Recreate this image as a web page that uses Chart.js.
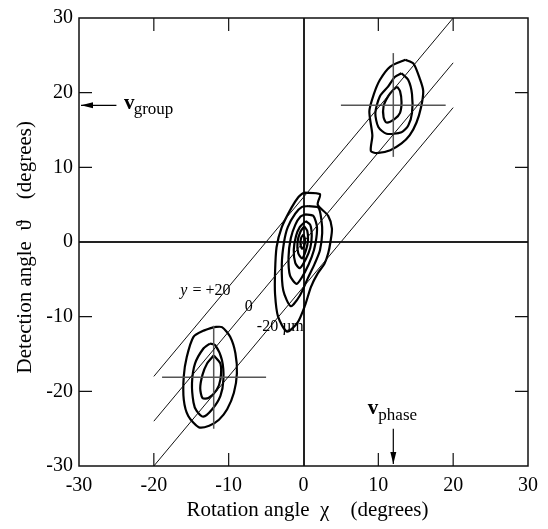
<!DOCTYPE html>
<html>
<head>
<meta charset="utf-8">
<script src="https://cdn.jsdelivr.net/npm/chart.js@4/dist/chart.umd.min.js"></script>
<style>
  html, body { margin: 0; padding: 0; background: #fff; }
  #wrap { width: 548px; height: 529px; }
</style>
</head>
<body>
<div id="wrap"><canvas id="chart"></canvas></div>
<script>
// axis ticks (degrees)
const xTicks = [-30, -20, -10, 0, 10, 20, 30];
const yTicks = [-30, -20, -10, 0, 10, 20, 30];

// the three y = const lines (+20, 0, -20 um), end points
const lineUp = [[-20, -18], [20, 30]];
const lineMid = [[-20, -24], [20, 24]];
const lineDown = [[-20, -30], [20, 18]];

// crosshairs at the two side peaks
const crossUpH = [[5.0, 18.3], [19.0, 18.3]];
const crossUpV = [[12.0, 11.4], [12.0, 25.3]];
const crossLoH = [[-18.9, -18.1], [-5.0, -18.1]];
const crossLoV = [[-12.0, -11.2], [-12.0, -25.0]];

// contours of the central peak (outer -> inner)
const mid1 = [[0, 6.6], [2.2, 6.4], [1.9, 5.0], [3.3, 3.5], [3.8, 1.8], [3.6, 0], [3.3, -1.5], [2.8, -2.9], [1.9, -4.2], [1.0, -6], [0.2, -8.5], [-0.8, -10.8], [-2.2, -12], [-3.4, -10], [-3.8, -7], [-3.8, -4], [-3.6, -0.7], [-2.9, 2.0], [-1.6, 4.6], [-0.7, 6.0], [0, 6.6]];
const mid2 = [[0.65, 4.8], [2.0, 4.6], [2.4, 2.9], [2.5, 1.2], [2.2, -1.1], [1.5, -2.9], [0.6, -4.8], [-0.5, -7.2], [-1.7, -8.6], [-2.7, -6.5], [-2.9, -3], [-2.6, 0], [-2.1, 2], [-1.1, 3.8], [-0.2, 4.7], [0.65, 4.8]];
const mid3 = [[0.2, 3.7], [1.3, 3.5], [1.8, 2.0], [1.6, -0.2], [1.1, -2.0], [0.2, -4.0], [-0.9, -5.6], [-1.8, -4.5], [-2.0, -2], [-1.7, 0.5], [-1.1, 2.3], [-0.4, 3.4], [0.2, 3.7]];
const mid4 = [[0.3, 2.8], [0.9, 2.3], [1.1, 0.8], [0.9, -0.8], [0.3, -2.3], [-0.5, -3.5], [-1.1, -2.8], [-1.3, -1], [-1.0, 0.8], [-0.5, 2.0], [0.3, 2.8]];
const mid5 = [[0.1, 2.1], [0.5, 1.5], [0.6, 0.2], [0.3, -1.2], [-0.2, -2.2], [-0.7, -1.5], [-0.8, 0], [-0.4, 1.4], [0.1, 2.1]];
const mid6 = [[0, 1.0], [0.2, 0.4], [0.1, -0.5], [-0.2, -0.9], [-0.4, -0.3], [-0.3, 0.6], [0, 1.0]];

// upper right peak
const up1 = [[13.6, 24.4], [14.7, 23.9], [15.6, 21.7], [16.0, 20.2], [15.7, 18.0], [15.1, 16.0], [14.2, 14.3], [13.1, 13.2], [11.6, 12.3], [9.8, 11.9], [9.0, 12.2], [9.2, 14.3], [8.8, 17.5], [9.4, 19.8], [10.2, 21.7], [11.6, 23.5], [13.6, 24.4]];
const up2 = [[13.1, 22.6], [14.0, 21.7], [14.5, 19.8], [14.5, 17.3], [14.0, 15.6], [13.1, 14.7], [11.1, 14.5], [10.0, 15.4], [9.6, 17.3], [10.2, 19.5], [11.3, 20.8], [12.2, 22.1], [13.1, 22.6]];
const up3 = [[12.5, 20.8], [12.9, 20.2], [13.1, 18.7], [12.9, 17.3], [12.2, 16.5], [11.1, 16.0], [10.7, 16.7], [10.7, 18.2], [11.3, 19.5], [12.0, 20.4], [12.5, 20.8]];

// lower left peak
const low1 = [[-12.0, -11.4], [-10.9, -11.4], [-9.8, -12.7], [-9.1, -14.9], [-8.9, -17.6], [-9.3, -20.2], [-10.2, -22.4], [-11.3, -23.8], [-12.6, -24.6], [-14.0, -24.8], [-15.4, -23.3], [-16.0, -21.1], [-16.0, -18.0], [-15.6, -15.4], [-14.7, -12.7], [-13.4, -11.9], [-12.0, -11.4]];
const low2 = [[-12.5, -13.6], [-11.8, -13.8], [-10.9, -15.8], [-10.7, -18.4], [-11.1, -20.6], [-12.2, -22.4], [-13.4, -23.4], [-14.3, -22.6], [-14.7, -21.5], [-14.9, -18.9], [-14.5, -16.3], [-13.4, -14.3], [-12.5, -13.6]];
const low3 = [[-12.0, -15.2], [-11.1, -16.3], [-11.1, -18.4], [-11.6, -19.8], [-12.7, -20.9], [-13.5, -20.9], [-13.8, -19.6], [-13.5, -17.8], [-12.9, -16.3], [-12.0, -15.2]];

const SERIF = '"Liberation Serif", "DejaVu Serif", serif';

function pts(arr) {
    return arr.map(p => ({ x: p[0], y: p[1] }));
}

function lineSet(arr, width, color) {
    return {
        data: pts(arr),
        showLine: true,
        pointRadius: 0,
        borderColor: color,
        borderWidth: width,
        tension: 0
    };
}

function contourSet(arr) {
    const ds = lineSet(arr, 2.2, '#000');
    ds.tension = 0.25;
    return ds;
}

const datasets = [
    lineSet(lineUp, 1, '#111'),
    lineSet(lineMid, 1, '#111'),
    lineSet(lineDown, 1, '#111'),
    lineSet(crossUpH, 1.5, '#555'),
    lineSet(crossUpV, 1.5, '#555'),
    lineSet(crossLoH, 1.5, '#555'),
    lineSet(crossLoV, 1.5, '#555')
];
[mid1, mid2, mid3, mid4, mid5, mid6, up1, up2, up3, low1, low2, low3].forEach(c => datasets.push(contourSet(c)));

// frame, inner ticks, arrows and labels
const decorPlugin = {
    id: 'decor',
    afterDatasetsDraw(chart) {
        const { ctx, chartArea: a, scales: { x, y } } = chart;
        const tickLen = 13;
        ctx.save();

        // frame
        ctx.strokeStyle = '#111';
        ctx.lineWidth = 1.5;
        ctx.strokeRect(a.left, a.top, a.right - a.left, a.bottom - a.top);

        // inner ticks on all four sides
        ctx.lineWidth = 1.2;
        xTicks.forEach(v => {
            if (v === xTicks[0] || v === xTicks[xTicks.length - 1] || v === 0) return;
            const px = x.getPixelForValue(v);
            ctx.beginPath();
            ctx.moveTo(px, a.bottom); ctx.lineTo(px, a.bottom - tickLen);
            ctx.moveTo(px, a.top); ctx.lineTo(px, a.top + tickLen);
            ctx.stroke();
        });
        yTicks.forEach(v => {
            if (v === yTicks[0] || v === yTicks[yTicks.length - 1] || v === 0) return;
            const py = y.getPixelForValue(v);
            ctx.beginPath();
            ctx.moveTo(a.left, py); ctx.lineTo(a.left + tickLen, py);
            ctx.moveTo(a.right, py); ctx.lineTo(a.right - tickLen, py);
            ctx.stroke();
        });

        // arrows
        function arrow(x1, y1, x2, y2) {
            const ang = Math.atan2(y2 - y1, x2 - x1);
            ctx.strokeStyle = '#000';
            ctx.fillStyle = '#000';
            ctx.lineWidth = 1.2;
            ctx.beginPath();
            ctx.moveTo(x1, y1); ctx.lineTo(x2, y2);
            ctx.stroke();
            ctx.beginPath();
            ctx.moveTo(x2, y2);
            ctx.lineTo(x2 - 12 * Math.cos(ang) + 3 * Math.sin(ang), y2 - 12 * Math.sin(ang) - 3 * Math.cos(ang));
            ctx.lineTo(x2 - 12 * Math.cos(ang) - 3 * Math.sin(ang), y2 - 12 * Math.sin(ang) + 3 * Math.cos(ang));
            ctx.closePath();
            ctx.fill();
        }
        const gy = y.getPixelForValue(18.3);
        arrow(x.getPixelForValue(-25), gy, a.left + 2, gy);
        const px12 = x.getPixelForValue(12);
        arrow(px12, y.getPixelForValue(-25.0), px12, a.bottom - 2);

        // v_group / v_phase
        ctx.fillStyle = '#000';
        ctx.textAlign = 'left';
        ctx.textBaseline = 'alphabetic';
        ctx.font = 'bold 21px ' + SERIF;
        ctx.fillText('v', x.getPixelForValue(-24.0), gy + 4);
        ctx.font = '17px ' + SERIF;
        ctx.fillText('group', x.getPixelForValue(-22.7), gy + 9);
        const vy = y.getPixelForValue(-23.0);
        ctx.font = 'bold 21px ' + SERIF;
        ctx.fillText('v', x.getPixelForValue(8.6), vy);
        ctx.font = '17px ' + SERIF;
        ctx.fillText('phase', x.getPixelForValue(10.0), vy + 6);

        // line labels
        ctx.textAlign = 'center';
        ctx.textBaseline = 'middle';
        ctx.font = 'italic 16px ' + SERIF;
        const ly = y.getPixelForValue(-6.5);
        ctx.fillText('y', x.getPixelForValue(-16.0), ly);
        ctx.font = '16px ' + SERIF;
        ctx.fillText('= +20', x.getPixelForValue(-12.3), ly);
        ctx.fillText('0', x.getPixelForValue(-7.3), y.getPixelForValue(-8.7));
        ctx.fillText('-20 \u00b5m', x.getPixelForValue(-3.1), y.getPixelForValue(-11.3));

        // x axis title
        ctx.font = '21px ' + SERIF;
        ctx.textAlign = 'center';
        ctx.fillText('Rotation angle  \u03c7    (degrees)', (a.left + a.right) / 2 + 4, 510);
        ctx.restore();
    }
};

new Chart(document.getElementById('chart'), {
    type: 'scatter',
    data: { datasets: datasets },
    options: {
        responsive: true,
        maintainAspectRatio: false,
        animation: false,
        layout: { padding: { top: 10, right: 20, left: 0, bottom: 0 } },
        plugins: {
            legend: { display: false },
            tooltip: { enabled: false }
        },
        scales: {
            x: {
                min: -30,
                max: 30,
                afterFit: scale => { scale.height = 63; },
                afterBuildTicks: scale => { scale.ticks = xTicks.map(v => ({ value: v })); },
                ticks: { color: '#000', font: { family: SERIF, size: 20 }, padding: 8, maxRotation: 0 },
                grid: {
                    drawTicks: false,
                    color: c => (c.tick && c.tick.value === 0 ? '#222' : 'rgba(0,0,0,0)'),
                    lineWidth: 2
                },
                border: { display: false }
            },
            y: {
                min: -30,
                max: 30,
                afterFit: scale => { scale.width = 79; },
                afterBuildTicks: scale => { scale.ticks = yTicks.map(v => ({ value: v })); },
                ticks: { color: '#000', font: { family: SERIF, size: 20 }, padding: 6 },
                grid: {
                    drawTicks: false,
                    color: c => (c.tick && c.tick.value === 0 ? '#222' : 'rgba(0,0,0,0)'),
                    lineWidth: 2
                },
                border: { display: false },
                title: {
                    display: true,
                    text: 'Detection angle  \u03d1    (degrees)  ',
                    color: '#000',
                    font: { family: SERIF, size: 21 },
                    padding: { top: 13, bottom: 0 }
                }
            }
        }
    },
    plugins: [decorPlugin]
});
</script>
</body>
</html>
